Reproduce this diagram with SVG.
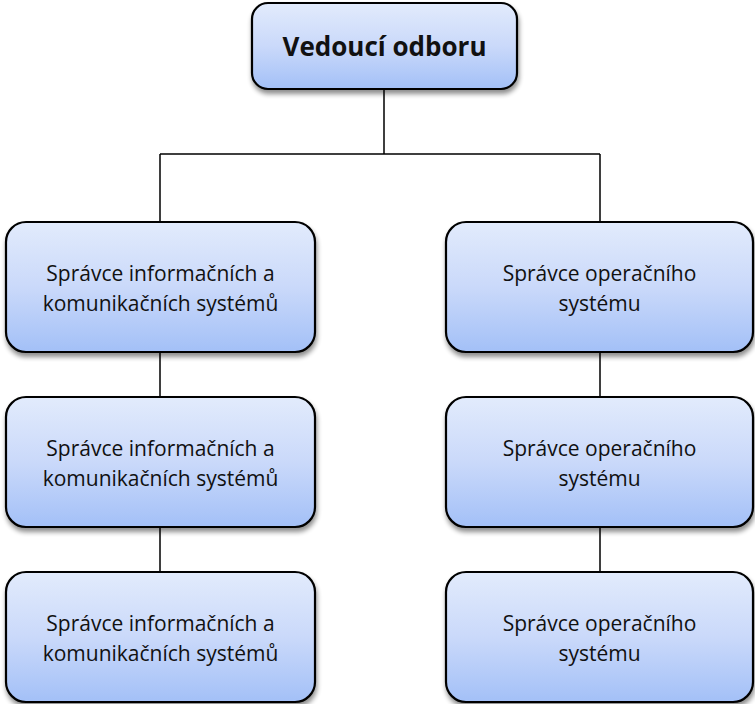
<svg xmlns="http://www.w3.org/2000/svg" width="755" height="704" viewBox="0 0 755 704">
<defs>
<linearGradient id="g" x1="0" y1="0" x2="0" y2="1">
<stop offset="0" stop-color="#e2ebfc"/>
<stop offset="0.5" stop-color="#cad9fa"/>
<stop offset="1" stop-color="#a3c0f7"/>
</linearGradient>
<filter id="sh" x="-10%" y="-10%" width="120%" height="130%">
<feGaussianBlur in="SourceAlpha" stdDeviation="2.5"/>
<feOffset dx="1" dy="4"/>
<feComponentTransfer><feFuncA type="linear" slope="0.45"/></feComponentTransfer>
<feMerge><feMergeNode/><feMergeNode in="SourceGraphic"/></feMerge>
</filter>
</defs>
<style>
.box{fill:url(#g);stroke:#000;stroke-width:2.2;filter:url(#sh)}
.t{font-family:"Open Sans","Liberation Sans",sans-serif;font-size:21px;fill:#111;text-anchor:middle}
.h{font-family:"Open Sans","Liberation Sans",sans-serif;font-size:26px;font-weight:bold;fill:#111;text-anchor:middle}
.c{stroke:#000;stroke-width:1.5;fill:none}
</style>
<g id="connectors">
<path class="c" d="M384 89V154M160 154H600M160 154V222M600 154V222M160 352V397M600 352V397M160 527V572M600 527V572"/>
</g>
<g id="n0"><rect class="box" x="252" y="3" width="265" height="86" rx="16"/><text class="h" x="384.5" y="56">Vedoucí odboru</text></g>
<g id="n1"><rect class="box" x="6" y="222" width="309" height="130" rx="20"/><text class="t" x="160.5" y="281">Správce informačních a</text><text class="t" x="160.5" y="311">komunikačních systémů</text></g>
<g id="n2"><rect class="box" x="6" y="397" width="309" height="130" rx="20"/><text class="t" x="160.5" y="456">Správce informačních a</text><text class="t" x="160.5" y="486">komunikačních systémů</text></g>
<g id="n3"><rect class="box" x="6" y="572" width="309" height="130" rx="20"/><text class="t" x="160.5" y="631">Správce informačních a</text><text class="t" x="160.5" y="661">komunikačních systémů</text></g>
<g id="n4"><rect class="box" x="446" y="222" width="307" height="130" rx="20"/><text class="t" x="599.5" y="281">Správce operačního</text><text class="t" x="599.5" y="311">systému</text></g>
<g id="n5"><rect class="box" x="446" y="397" width="307" height="130" rx="20"/><text class="t" x="599.5" y="456">Správce operačního</text><text class="t" x="599.5" y="486">systému</text></g>
<g id="n6"><rect class="box" x="446" y="572" width="307" height="130" rx="20"/><text class="t" x="599.5" y="631">Správce operačního</text><text class="t" x="599.5" y="661">systému</text></g>
</svg>
